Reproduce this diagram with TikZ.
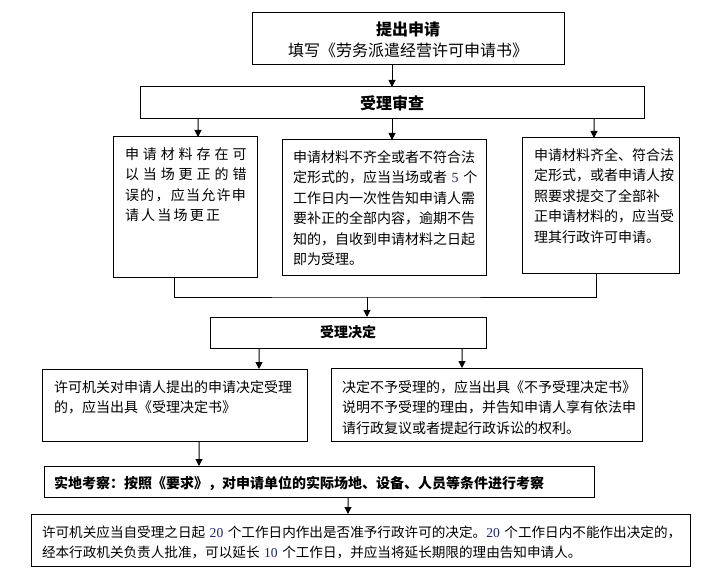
\documentclass[tikz,border=0pt]{standalone}
\usepackage{fontspec}
\setmainfont{Noto Sans CJK SC}
\newfontfamily\numfont{Liberation Serif}
\usetikzlibrary{arrows.meta}
\hfuzz=20bp
\definecolor{numblue}{RGB}{25,35,110}
\newcommand\daynum[1]{{\numfont\color{numblue}#1}}
\newcommand\spreadline[2]{{\addfontfeature{LetterSpace=#1}#2}}
\tikzset{
box/.style={ % Sets the properties for each stage
draw, line width=1bp,
inner xsep=12bp, inner ysep=0pt, outer sep=0pt,
anchor=north west, align=left,
font=\fontsize{14bp}{20.5bp}\selectfont},
headbox/.style={ % Stages with a centred heading
box, inner xsep=0pt, align=center,
font=\fontsize{16bp}{21bp}\selectfont},
link/.style={ % Sets the properties for each connector
draw, line width=1bp,
-{Triangle[width=7bp,length=7bp]}}}

\begin{document}
\begin{tikzpicture}[x=1bp, y=-1bp]
\useasboundingbox (0,0) rectangle (720,568);
\node[headbox, text width=312bp, text height=22.1bp, text depth=29.9bp] (apply) at (252,13)
  {\textbf{提出申请}\\填写《劳务派遣经营许可申请书》};
\node[headbox, text width=504bp, text height=22.1bp, text depth=9.9bp,
  font=\fontsize{16bp}{21bp}\selectfont\bfseries] (review) at (140,87) {受理审查};
\node[box, text width=120bp, text height=22.3bp, text depth=117.7bp] (fix) at (113,137)
  {\spreadline{28}{申请材料存在可}\\\spreadline{28}{以当场更正的错}\\
   \spreadline{9}{误的，应当允许申}\\\spreadline{16}{请人当场更正}};
\node[box, inner xsep=11bp, text width=182bp, text height=22.3bp, text depth=112.7bp] (notify) at (282,140)
  {申请材料不齐全或者不符合法\\定形式的，应当当场或者~\daynum{5}~个\\工作日内一次性告知申请人需\\
   要补正的全部内容，逾期不告\\知的，自收到申请材料之日起\\即为受理。};
\node[box, text width=133bp, text height=22.3bp, text depth=112.7bp] (accept) at (522,138)
  {申请材料齐全、符合法\\定形式，或者申请人按\\照要求提交了全部补\\正申请材料的，应当受\\理其行政许可申请。};
\node[headbox, text width=276bp, text height=20.3bp, text depth=10.7bp,
  font=\fontsize{14bp}{20bp}\selectfont\bfseries] (decide) at (210,317) {受理决定};
\node[box, text width=241bp, text height=23.3bp, text depth=48.7bp] (grant) at (42,369)
  {许可机关对申请人提出的申请决定受理\\的，应当出具《受理决定书》};
\node[box, inner xsep=11bp, text width=289bp, text height=24.3bp, text depth=48.7bp] (refuse) at (331,368)
  {决定不予受理的，应当出具《不予受理决定书》\\说明不予受理的理由，并告知申请人享有依法申\\请行政复议或者提起行政诉讼的权利。};
\node[box, inner xsep=10bp, text width=530bp, text height=22.3bp, text depth=8.7bp,
  font=\fontsize{14bp}{20bp}\selectfont\bfseries] (site) at (44,466)
  {实地考察：按照《要求》，对申请单位的实际场地、设备、人员等条件进行考察};
\node[box, inner xsep=11bp, text width=637bp, text height=23.2bp, text depth=28.8bp,
  font=\fontsize{13.6bp}{20bp}\selectfont] (permit) at (31,514)
  {许可机关应当自受理之日起~\daynum{20}~个工作日内作出是否准予行政许可的决定。\daynum{20}~个工作日内不能作出决定的，\\
   经本行政机关负责人批准，可以延长~\daynum{10}~个工作日，并应当将延长期限的理由告知申请人。};
\coordinate (merge) at (367,297);

\draw[link] (review.north |- apply.south) -- (review.north);
\draw[link] ([xshift=-194bp]review.south) -- ([xshift=13bp]fix.north);
\draw[link] (review.south) -- (review.south |- notify.north);
\draw[link] ([xshift=202bp]review.south) -- ([xshift=-6.5bp]accept.north);
\draw[line width=1bp] ([xshift=-11bp]fix.south) |- (merge) -| ([xshift=-4.5bp]accept.south);
\draw[link] (merge) -- (merge |- decide.north);
\draw[link] ([xshift=49bp]decide.south west) -- ([xshift=217bp]grant.north west);
\draw[link] ([xshift=-24bp]decide.south east) -- ([xshift=131bp]refuse.north west);
\draw[link] ([xshift=157bp]grant.south west) -- ([xshift=155bp]site.north west);
\draw[link] ([xshift=304bp]site.south west) -- ([xshift=317bp]permit.north west);
\end{tikzpicture}
\end{document}
